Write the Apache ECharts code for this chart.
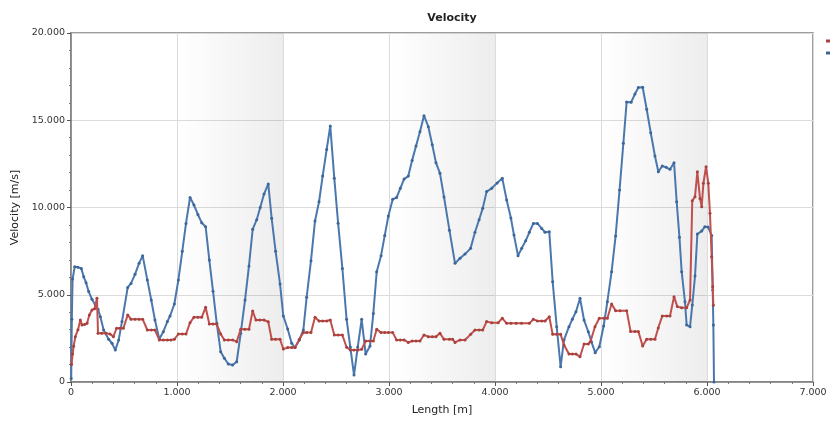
<!DOCTYPE html>
<html>
<head>
<meta charset="utf-8">
<title>Velocity</title>
<script src="https://cdn.jsdelivr.net/npm/echarts@6/dist/echarts.min.js"></script>
<style>
  html, body { margin: 0; padding: 0; background: #ffffff; }
  #chart { width: 830px; height: 421px; }
</style>
</head>
<body>
<div id="chart"></div>
<script>
// Average velocity along the length
const avgLength = [0.005, 0.015, 0.025, 0.041, 0.066, 0.088, 0.104, 0.128, 0.151, 0.173, 0.198, 0.223, 0.245, 0.255, 0.29, 0.33, 0.368, 0.40, 0.43, 0.46, 0.494, 0.535, 0.566, 0.604, 0.642, 0.676, 0.72, 0.757, 0.792, 0.833, 0.871, 0.909, 0.943, 0.975, 1.013, 1.05, 1.085, 1.123, 1.16, 1.197, 1.233, 1.27, 1.305, 1.34, 1.375, 1.412, 1.447, 1.484, 1.525, 1.563, 1.601, 1.64, 1.679, 1.714, 1.745, 1.78, 1.821, 1.861, 1.893, 1.93, 1.972, 2.003, 2.044, 2.082, 2.113, 2.154, 2.192, 2.223, 2.264, 2.302, 2.34, 2.374, 2.412, 2.446, 2.484, 2.52, 2.56, 2.6, 2.635, 2.67, 2.705, 2.742, 2.78, 2.821, 2.852, 2.884, 2.925, 2.96, 2.994, 3.035, 3.072, 3.107, 3.142, 3.182, 3.218, 3.255, 3.292, 3.33, 3.371, 3.408, 3.443, 3.481, 3.519, 3.57, 3.6, 3.623, 3.67, 3.717, 3.77, 3.811, 3.85, 3.884, 3.921, 3.969, 4.03, 4.069, 4.11, 4.15, 4.2, 4.25, 4.324, 4.362, 4.4, 4.44, 4.472, 4.512, 4.544, 4.582, 4.619, 4.651, 4.698, 4.73, 4.764, 4.802, 4.84, 4.88, 4.90, 4.943, 4.984, 5.028, 5.06, 5.1, 5.138, 5.18, 5.242, 5.279, 5.32, 5.352, 5.393, 5.431, 5.47, 5.509, 5.54, 5.578, 5.62, 5.651, 5.689, 5.72, 5.76, 5.808, 5.84, 5.861, 5.887, 5.909, 5.934, 5.95, 5.966, 5.991, 6.012, 6.028, 6.044, 6.054, 6.06];
const avgVelocity = [1.0, 1.6, 2.05, 2.6, 3.0, 3.55, 3.27, 3.3, 3.36, 3.84, 4.13, 4.2, 4.8, 2.8, 2.8, 2.8, 2.75, 2.6, 3.08, 3.08, 3.08, 3.84, 3.6, 3.6, 3.6, 3.6, 2.98, 2.98, 2.98, 2.41, 2.41, 2.41, 2.41, 2.45, 2.75, 2.75, 2.75, 3.4, 3.71, 3.71, 3.71, 4.28, 3.32, 3.32, 3.32, 2.75, 2.41, 2.41, 2.41, 2.31, 3.02, 3.02, 3.02, 4.07, 3.55, 3.55, 3.55, 3.45, 2.45, 2.45, 2.45, 1.89, 1.97, 1.97, 1.97, 2.45, 2.83, 2.83, 2.83, 3.71, 3.5, 3.5, 3.5, 3.55, 2.69, 2.69, 2.69, 1.99, 1.83, 1.83, 1.83, 1.87, 2.35, 2.35, 2.35, 3.02, 2.83, 2.83, 2.83, 2.83, 2.41, 2.41, 2.41, 2.27, 2.35, 2.35, 2.35, 2.69, 2.6, 2.6, 2.6, 2.79, 2.45, 2.45, 2.45, 2.27, 2.41, 2.41, 2.73, 2.98, 2.98, 2.98, 3.46, 3.4, 3.4, 3.65, 3.36, 3.36, 3.36, 3.36, 3.36, 3.59, 3.5, 3.5, 3.5, 3.74, 2.73, 2.73, 2.73, 2.12, 1.6, 1.6, 1.6, 1.45, 2.18, 2.18, 2.31, 3.17, 3.65, 3.65, 3.65, 4.47, 4.09, 4.09, 4.09, 2.9, 2.9, 2.9, 2.06, 2.45, 2.45, 2.45, 3.1, 3.78, 3.78, 3.78, 4.89, 4.32, 4.26, 4.26, 4.7, 10.39, 10.62, 12.05, 10.52, 10.05, 11.39, 12.34, 11.39, 9.67, 7.18, 5.46, 4.4];

// Maximum velocity along the length
const maxLength = [0.002, 0.008, 0.015, 0.035, 0.066, 0.097, 0.12, 0.142, 0.167, 0.198, 0.229, 0.255, 0.277, 0.308, 0.355, 0.387, 0.418, 0.45, 0.481, 0.535, 0.566, 0.604, 0.642, 0.676, 0.72, 0.757, 0.792, 0.833, 0.871, 0.909, 0.934, 0.975, 1.013, 1.05, 1.085, 1.123, 1.16, 1.197, 1.233, 1.27, 1.305, 1.34, 1.375, 1.412, 1.447, 1.484, 1.525, 1.563, 1.601, 1.642, 1.679, 1.714, 1.752, 1.785, 1.821, 1.861, 1.893, 1.93, 1.972, 2.003, 2.044, 2.082, 2.113, 2.154, 2.192, 2.223, 2.264, 2.302, 2.34, 2.374, 2.412, 2.446, 2.484, 2.52, 2.56, 2.6, 2.635, 2.67, 2.705, 2.742, 2.78, 2.821, 2.852, 2.884, 2.925, 2.96, 2.994, 3.035, 3.072, 3.107, 3.142, 3.182, 3.218, 3.255, 3.292, 3.33, 3.371, 3.408, 3.443, 3.481, 3.519, 3.57, 3.623, 3.67, 3.717, 3.77, 3.811, 3.85, 3.884, 3.921, 3.969, 4.02, 4.069, 4.11, 4.15, 4.179, 4.217, 4.252, 4.29, 4.324, 4.362, 4.4, 4.44, 4.472, 4.512, 4.544, 4.582, 4.619, 4.651, 4.698, 4.73, 4.764, 4.802, 4.84, 4.88, 4.91, 4.945, 4.984, 5.025, 5.06, 5.1, 5.138, 5.175, 5.211, 5.242, 5.284, 5.32, 5.352, 5.393, 5.431, 5.469, 5.509, 5.541, 5.578, 5.615, 5.651, 5.689, 5.714, 5.74, 5.761, 5.792, 5.808, 5.84, 5.861, 5.887, 5.909, 5.95, 5.98, 6.01, 6.044, 6.054, 6.06, 6.066];
const maxVelocity = [0.2, 3.6, 5.9, 6.6, 6.57, 6.51, 6.03, 5.69, 5.18, 4.74, 4.41, 4.17, 3.74, 2.98, 2.45, 2.22, 1.83, 2.41, 3.46, 5.42, 5.65, 6.17, 6.8, 7.24, 5.85, 4.7, 3.55, 2.46, 2.88, 3.46, 3.78, 4.47, 5.85, 7.5, 9.09, 10.58, 10.14, 9.6, 9.13, 8.9, 6.99, 5.2, 3.36, 1.74, 1.36, 1.03, 0.97, 1.16, 2.79, 4.7, 6.65, 8.75, 9.3, 10.0, 10.77, 11.35, 9.38, 7.5, 5.62, 3.78, 3.04, 2.22, 1.97, 2.41, 2.98, 4.85, 6.95, 9.23, 10.33, 11.8, 13.33, 14.67, 11.67, 9.1, 6.51, 3.59, 2.0, 0.4, 2.0, 3.59, 1.6, 2.06, 3.93, 6.32, 7.24, 8.4, 9.51, 10.47, 10.58, 11.1, 11.63, 11.8, 12.7, 13.52, 14.34, 15.26, 14.63, 13.6, 12.57, 11.96, 10.6, 8.7, 6.8, 7.09, 7.33, 7.66, 8.58, 9.3, 9.95, 10.91, 11.1, 11.4, 11.67, 10.43, 9.4, 8.42, 7.24, 7.66, 8.1, 8.58, 9.09, 9.09, 8.8, 8.58, 8.61, 5.75, 3.17, 0.88, 2.41, 3.17, 3.6, 4.03, 4.8, 3.55, 2.88, 2.3, 1.68, 2.02, 3.21, 4.6, 6.32, 8.37, 11.0, 13.68, 16.05, 16.03, 16.5, 16.87, 16.89, 15.63, 14.29, 12.95, 12.05, 12.38, 12.3, 12.19, 12.57, 10.33, 8.3, 6.32, 4.6, 3.27, 3.17, 4.41, 6.07, 8.48, 8.65, 8.9, 8.88, 8.4, 5.27, 3.27, 0];

// Shaded length bands [from, to]
const bands = [[1, 2], [3, 4], [5, 6]];

const seriesNames = ['v avg', 'v max'];
const seriesColors = ['#c0504d', '#4a78ae'];
const symbolColors = ['#a8403d', '#3d6698'];

const pairs = (xs, ys) => xs.map((x, i) => [x, ys[i]]);
const tickText = v => (v === 0 ? '0' : v.toFixed(3));
const font = 'DejaVu Sans';

const bandFill = new echarts.graphic.LinearGradient(0, 0, 1, 0, [
  { offset: 0, color: 'rgba(0,0,0,0)' },
  { offset: 1, color: 'rgba(0,0,0,0.07)' }
]);

const chart = echarts.init(document.getElementById('chart'), null, { renderer: 'canvas' });

chart.setOption({
  animation: false,
  backgroundColor: '#ffffff',
  title: {
    text: 'Velocity',
    left: 447,
    top: 8,
    textAlign: 'center',
    textStyle: { fontFamily: font, fontSize: 11, fontWeight: 'bold', color: '#222' }
  },
  legend: {
    orient: 'vertical',
    left: 821,
    top: 30,
    itemWidth: 14,
    itemHeight: 3,
    itemGap: 0,
    icon: 'rect',
    data: seriesNames,
    textStyle: { fontFamily: font, fontSize: 10, color: '#222', lineHeight: 12 }
  },
  grid: {
    left: 71, right: 17, top: 33, bottom: 39,
    show: true,
    borderColor: '#7d7d7d',
    borderWidth: 1.5,
    backgroundColor: 'transparent'
  },
  xAxis: {
    type: 'value',
    min: 0, max: 7, interval: 1,
    name: 'Length [m]',
    nameLocation: 'middle',
    nameGap: 23,
    nameTextStyle: { fontFamily: font, fontSize: 11, color: '#222' },
    axisLine: { show: true, onZero: false, lineStyle: { color: '#7d7d7d', width: 1.5 } },
    axisTick: { show: true, inside: false, length: 4, lineStyle: { color: '#555' } },
    minorTick: { show: true, splitNumber: 5, length: 2, lineStyle: { color: '#777' } },
    axisLabel: { formatter: tickText, margin: 6, fontFamily: font, fontSize: 9.5, color: '#333' },
    splitLine: { show: true, lineStyle: { color: '#dcdcdc', width: 1 } }
  },
  yAxis: {
    type: 'value',
    min: 0, max: 20, interval: 5,
    name: 'Velocity [m/s]',
    nameLocation: 'middle',
    nameGap: 48,
    nameTextStyle: { fontFamily: font, fontSize: 11, color: '#222' },
    axisLine: { show: true, onZero: false, lineStyle: { color: '#7d7d7d', width: 1.5 } },
    axisTick: { show: true, inside: false, length: 4, lineStyle: { color: '#555' } },
    minorTick: { show: true, splitNumber: 5, length: 2, lineStyle: { color: '#777' } },
    axisLabel: { formatter: tickText, margin: 6, fontFamily: font, fontSize: 9.5, color: '#333' },
    splitLine: { show: true, lineStyle: { color: '#dcdcdc', width: 1 } }
  },
  series: [
    {
      name: seriesNames[0],
      type: 'line',
      data: pairs(avgLength, avgVelocity),
      color: seriesColors[0],
      lineStyle: { width: 2, color: seriesColors[0] },
      symbol: 'circle',
      symbolSize: 3,
      itemStyle: { color: symbolColors[0] },
      z: 3,
      markArea: {
        silent: true,
        itemStyle: { color: bandFill },
        data: bands.map(b => [{ xAxis: b[0] }, { xAxis: b[1] }])
      }
    },
    {
      name: seriesNames[1],
      type: 'line',
      data: pairs(maxLength, maxVelocity),
      color: seriesColors[1],
      lineStyle: { width: 2, color: seriesColors[1] },
      symbol: 'circle',
      symbolSize: 3,
      itemStyle: { color: symbolColors[1] },
      z: 2
    }
  ]
});
</script>
</body>
</html>
